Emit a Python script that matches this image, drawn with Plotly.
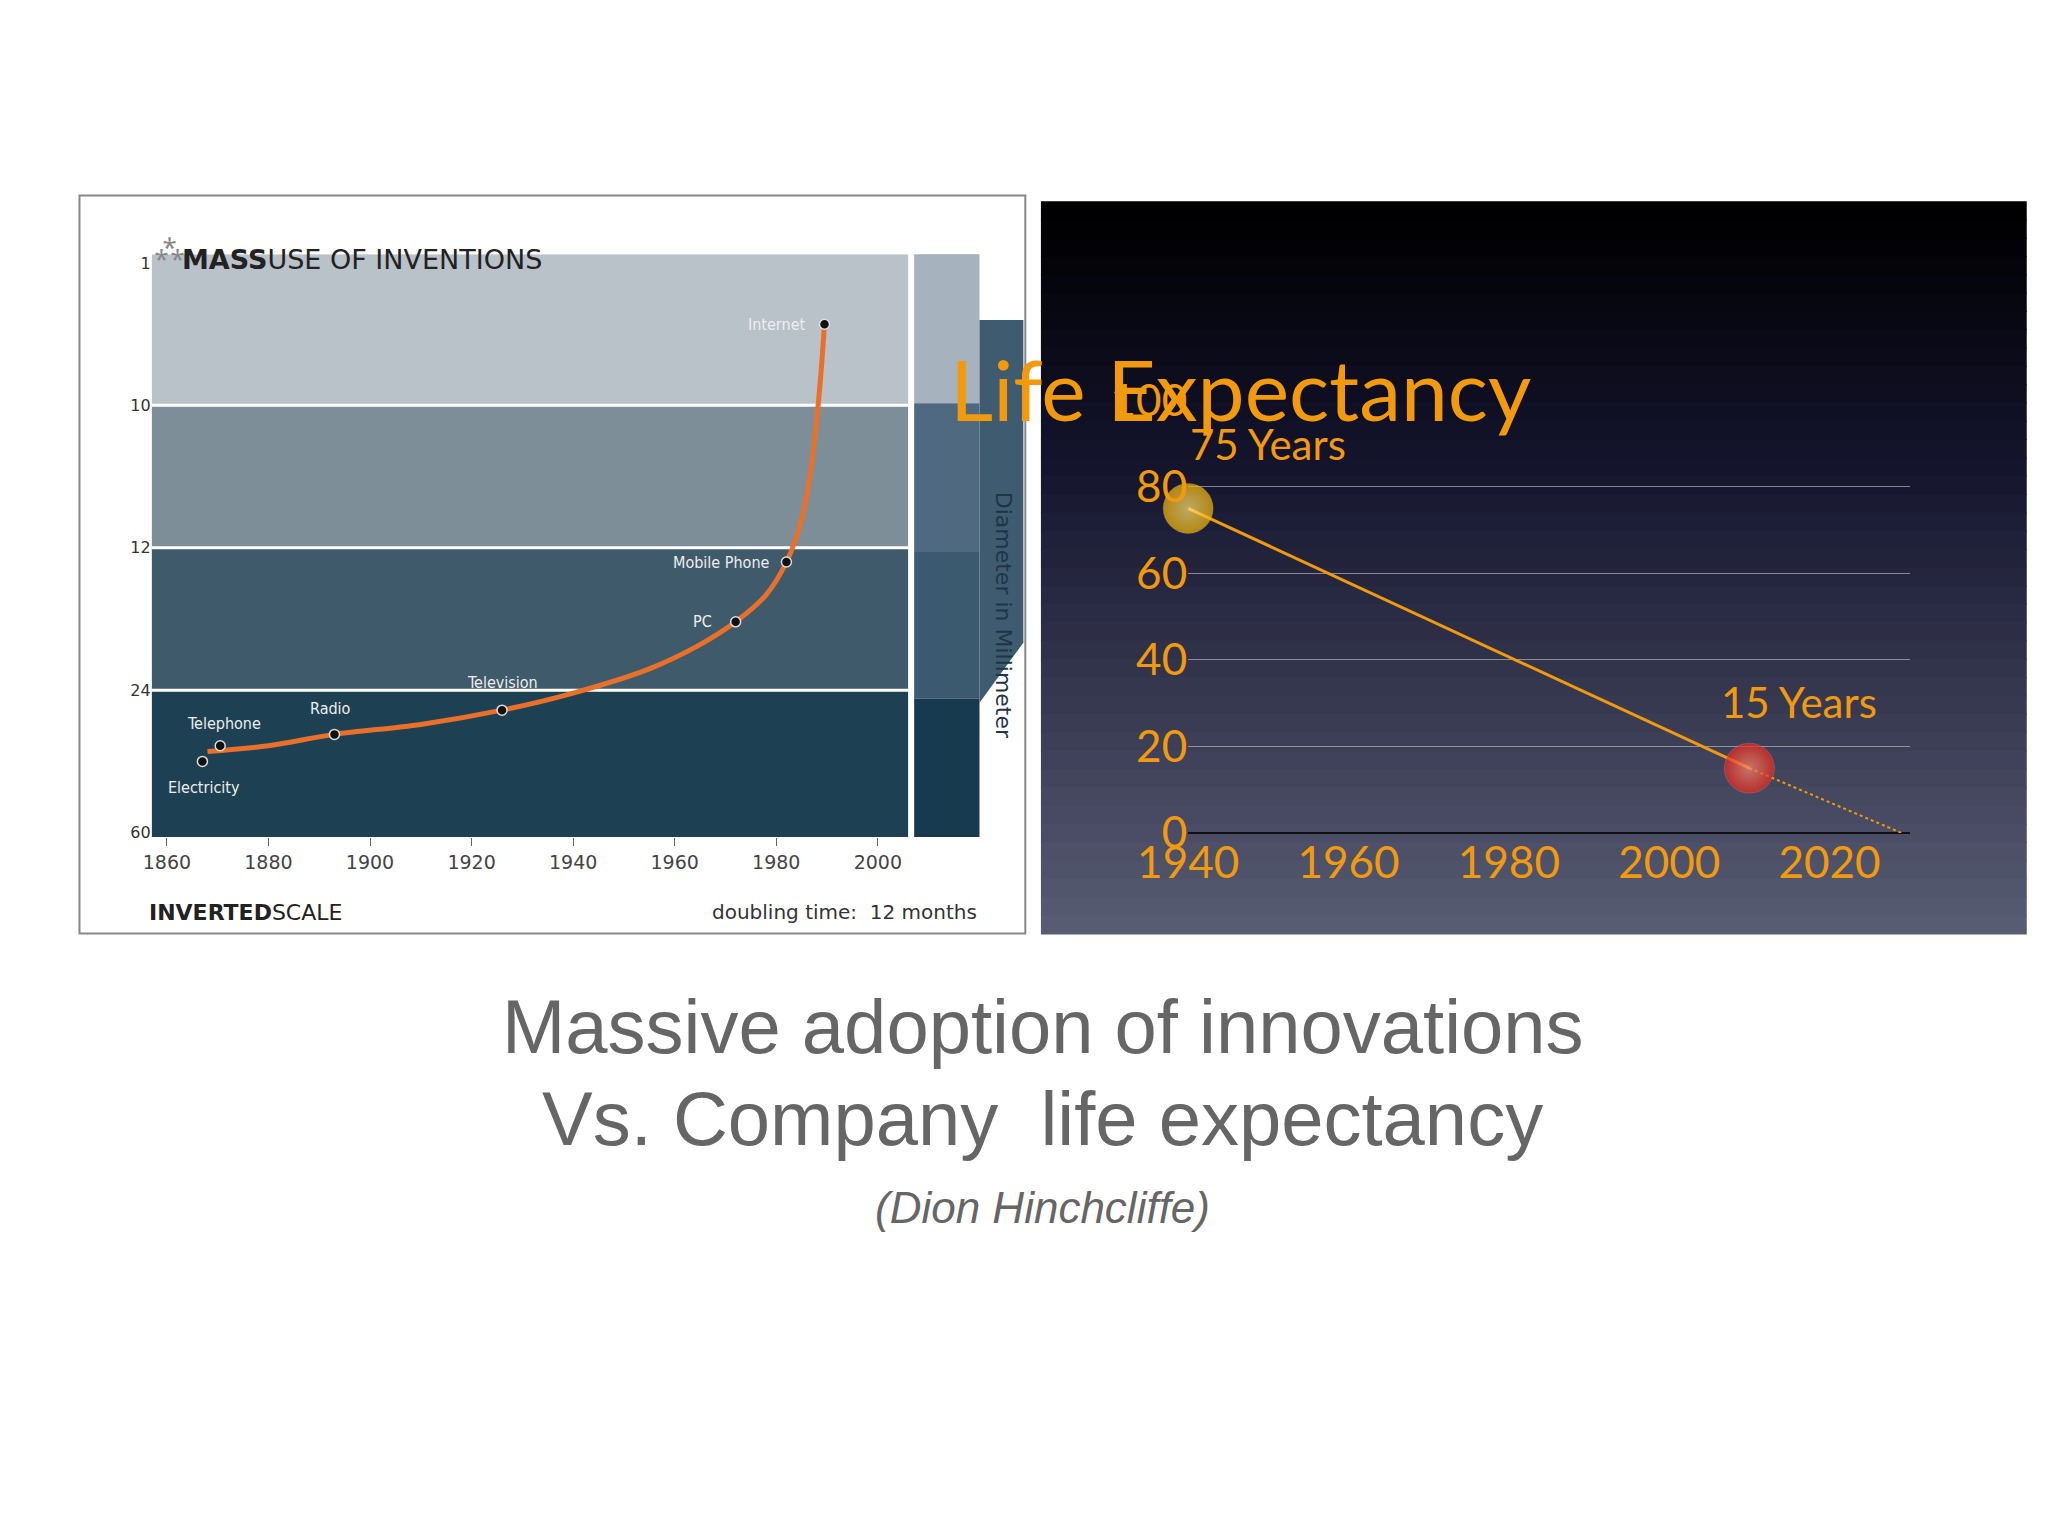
import plotly.graph_objects as go

# Left chart data
inv_names = ["Electricity", "Telephone", "Radio", "Television", "PC", "Mobile Phone", "Internet"]
inv_years = [1867, 1870.5, 1893, 1926, 1972, 1982, 1989.5]
inv_pos = [3.5, 3.39, 3.31, 3.14, 2.52, 2.1, 0.43]
curve_years = [1868, 1880, 1893, 1910, 1926, 1940, 1955, 1965, 1972, 1978, 1982, 1985, 1987, 1988.5, 1989.5]
curve_pos = [3.43, 3.39, 3.31, 3.24, 3.14, 3.02, 2.85, 2.68, 2.52, 2.33, 2.1, 1.8, 1.4, 0.9, 0.43]
band_ticks = [0, 1, 2, 3, 4]
band_labels = ["1", "10", "12", "24", "60"]
year_ticks = [1860, 1880, 1900, 1920, 1940, 1960, 1980, 2000]

# Right chart data
le_years = [1940, 2010]
le_values = [75, 15]
le_proj_years = [2010, 2029]
le_proj_values = [15, 0]
le_labels = ["75 Years", "15 Years"]

W, H = 2048, 1536
def px(x): return x / W
def py(y): return 1 - y / H

fig = go.Figure()
shapes = []
ann = []

# Left panel frame
shapes.append(dict(type="rect", xref="paper", yref="paper", x0=px(21), x1=px(991), y0=py(929), y1=py(165),
                   fillcolor="white", line=dict(color="#888", width=2), layer="below"))
band_cols = ["#b9c1c9", "#7e8e98", "#3f5a6a", "#1d4152"]
band_edges = [-0.06, 1, 2, 3, 4.03]
for i, c in enumerate(band_cols):
    shapes.append(dict(type="rect", xref="x", yref="y", x0=1857, x1=2006, y0=band_edges[i], y1=band_edges[i+1],
                       fillcolor=c, line=dict(width=0), layer="below"))
for b in [1, 2, 3]:
    shapes.append(dict(type="line", xref="x", yref="y", x0=1857, x1=2006, y0=b, y1=b,
                       line=dict(color="white", width=3), layer="below"))
# right strips
strip_cols = ["#a6b2be", "#4f6a80", "#3b5a70", "#173a4e"]
strip_y = [226, 380, 534, 686, 829]
for i, c in enumerate(strip_cols):
    shapes.append(dict(type="rect", xref="paper", yref="paper", x0=px(877), x1=px(944), y0=py(strip_y[i+1]), y1=py(strip_y[i]),
                       fillcolor=c, line=dict(width=0), layer="below"))
shapes.append(dict(type="path", xref="paper", yref="paper",
                   path=f"M {px(944)},{py(294)} L {px(989)},{py(294)} L {px(989)},{py(628)} L {px(944)},{py(690)} Z",
                   fillcolor="#3f5b70", line=dict(width=0), layer="below"))
ann.append(dict(text="Diameter in Millimeter", xref="paper", yref="paper", x=px(969), y=py(470), showarrow=False,
                textangle=90, font=dict(size=22, color="#1d3545", family="DejaVu Sans")))
ann.append(dict(text="<b>MASS</b>USE OF INVENTIONS", xref="paper", yref="paper", x=px(124), y=py(213), xanchor="left",
                showarrow=False, font=dict(size=27, color="#222", family="DejaVu Sans")))
ann.append(dict(text="⁂", xref="paper", yref="paper", x=px(96), y=py(198), xanchor="left",
                showarrow=False, font=dict(size=26, color="#888")))
ann.append(dict(text="<b>INVERTED</b>SCALE", xref="paper", yref="paper", x=px(90), y=py(907), xanchor="left",
                showarrow=False, font=dict(size=22, color="#222", family="DejaVu Sans")))
ann.append(dict(text="doubling time:  12 months", xref="paper", yref="paper", x=px(944), y=py(907), xanchor="right",
                showarrow=False, font=dict(size=20, color="#333", family="DejaVu Sans")))

fig.add_trace(go.Scatter(x=curve_years, y=curve_pos, mode="lines", line=dict(color="#e8702a", width=5, shape="spline"),
                         xaxis="x", yaxis="y", hoverinfo="skip"))
fig.add_trace(go.Scatter(x=inv_years, y=inv_pos, mode="markers", marker=dict(color="#111", size=10, line=dict(color="#ddd", width=1.5)),
                         xaxis="x", yaxis="y", cliponaxis=False))
offs = {"Electricity": (2, 26, "center"), "Telephone": (4, -22, "center"), "Radio": (-4, -26, "center"),
        "Television": (0, -28, "center"), "PC": (-22, 0, "right"), "Mobile Phone": (-14, 0, "right"), "Internet": (-18, 0, "right")}
for n, x, y in zip(inv_names, inv_years, inv_pos):
    dx, dy, xa = offs[n]
    ann.append(dict(text=n, x=x, y=y, xref="x", yref="y", showarrow=False, xshift=dx, yshift=-dy, xanchor=xa,
                    font=dict(size=16, color="#eee", family="DejaVu Sans Condensed")))

# Right panel gradient
top = (0, 0, 0); mid = (20, 20, 45); bot = (88, 92, 115)
N = 40
for i in range(N):
    t = i / (N - 1)
    if t < 0.35:
        u = t / 0.35; c = tuple(int(top[k] + (mid[k] - top[k]) * u) for k in range(3))
    else:
        u = (t - 0.35) / 0.65; c = tuple(int(mid[k] + (bot[k] - mid[k]) * u) for k in range(3))
    y0 = 171 + (929 - 171) * i / N
    y1 = 171 + (929 - 171) * (i + 1) / N + 1
    shapes.append(dict(type="rect", xref="paper", yref="paper", x0=px(1007), x1=px(2018), y0=py(y1), y1=py(y0),
                       fillcolor=f"rgb{c}", line=dict(width=0), layer="below"))

orange = "#f29a0e"
fig.add_trace(go.Scatter(x=le_proj_years, y=le_proj_values, mode="lines", line=dict(color=orange, width=2, dash="dot"),
                         xaxis="x2", yaxis="y2", cliponaxis=False))
fig.add_trace(go.Scatter(x=le_years, y=le_values, mode="lines", line=dict(color=orange, width=3),
                         xaxis="x2", yaxis="y2", cliponaxis=False))
fig.add_trace(go.Scatter(x=le_years, y=le_values, mode="markers", xaxis="x2", yaxis="y2", cliponaxis=False,
                         marker=dict(size=[50, 50], color=["#f7b500", "#e8261a"], line=dict(color="rgba(255,255,255,0.2)", width=1),
                                     gradient=dict(type="radial", color=["#ffe680", "#ff8a70"]))))
ann.append(dict(text=le_labels[0], x=le_years[0], y=le_values[0], xref="x2", yref="y2", showarrow=False,
                xanchor="left", xshift=0, yshift=64, font=dict(size=42, color=orange, family="Lato")))
ann.append(dict(text=le_labels[1], x=le_years[1], y=le_values[1], xref="x2", yref="y2", showarrow=False,
                xanchor="center", xshift=50, yshift=66, font=dict(size=42, color=orange, family="Lato")))
ann.append(dict(text="Life Expectancy", xref="paper", yref="paper", x=px(1512), y=py(310), showarrow=False,
                font=dict(size=84, color=orange, family="Lato")))

ann.append(dict(text="Massive adoption of innovations", xref="paper", yref="paper", x=0.4927, y=py(1071), showarrow=False,
                font=dict(size=76, color="#666", family="Liberation Sans")))
ann.append(dict(text="Vs. Company  life expectancy", xref="paper", yref="paper", x=0.4927, y=py(1166), showarrow=False,
                font=dict(size=76, color="#666", family="Liberation Sans")))
ann.append(dict(text="<i>(Dion Hinchcliffe)</i>", xref="paper", yref="paper", x=0.4927, y=py(1240), showarrow=False,
                font=dict(size=44, color="#666", family="Liberation Sans")))

fig.update_layout(
    width=W, height=H, margin=dict(l=0, r=0, t=0, b=0), paper_bgcolor="white", plot_bgcolor="rgba(0,0,0,0)",
    showlegend=False, shapes=shapes, annotations=ann,
    xaxis=dict(domain=[px(95), px(871)], range=[1857, 2006], tickvals=year_ticks, showgrid=False, zeroline=False,
               ticks="outside", ticklen=8, tickcolor="#666", tickfont=dict(size=19, color="#444", family="DejaVu Sans")),
    yaxis=dict(domain=[py(829), py(226)], range=[4.03, -0.06], tickvals=band_ticks, ticktext=band_labels,
               showgrid=False, zeroline=False, tickfont=dict(size=16, color="#333", family="DejaVu Sans")),
    xaxis2=dict(domain=[px(1158), px(1898)], range=[1940, 2030], tickvals=[1940, 1960, 1980, 2000, 2020],
                showgrid=False, zeroline=False, anchor="y2", ticklen=0,
                tickfont=dict(size=44, color=orange, family="Lato")),
    yaxis2=dict(domain=[py(825), py(377)], range=[0, 100], tickvals=[0, 20, 40, 60, 80, 100], anchor="x2",
                showgrid=True, gridcolor="rgba(200,200,210,0.6)", gridwidth=1, zeroline=True, zerolinecolor="#111",
                zerolinewidth=2, ticklen=0, ticksuffix="  ",
                tickfont=dict(size=44, color=orange, family="Lato")),
)
fig.write_html("out.html")
